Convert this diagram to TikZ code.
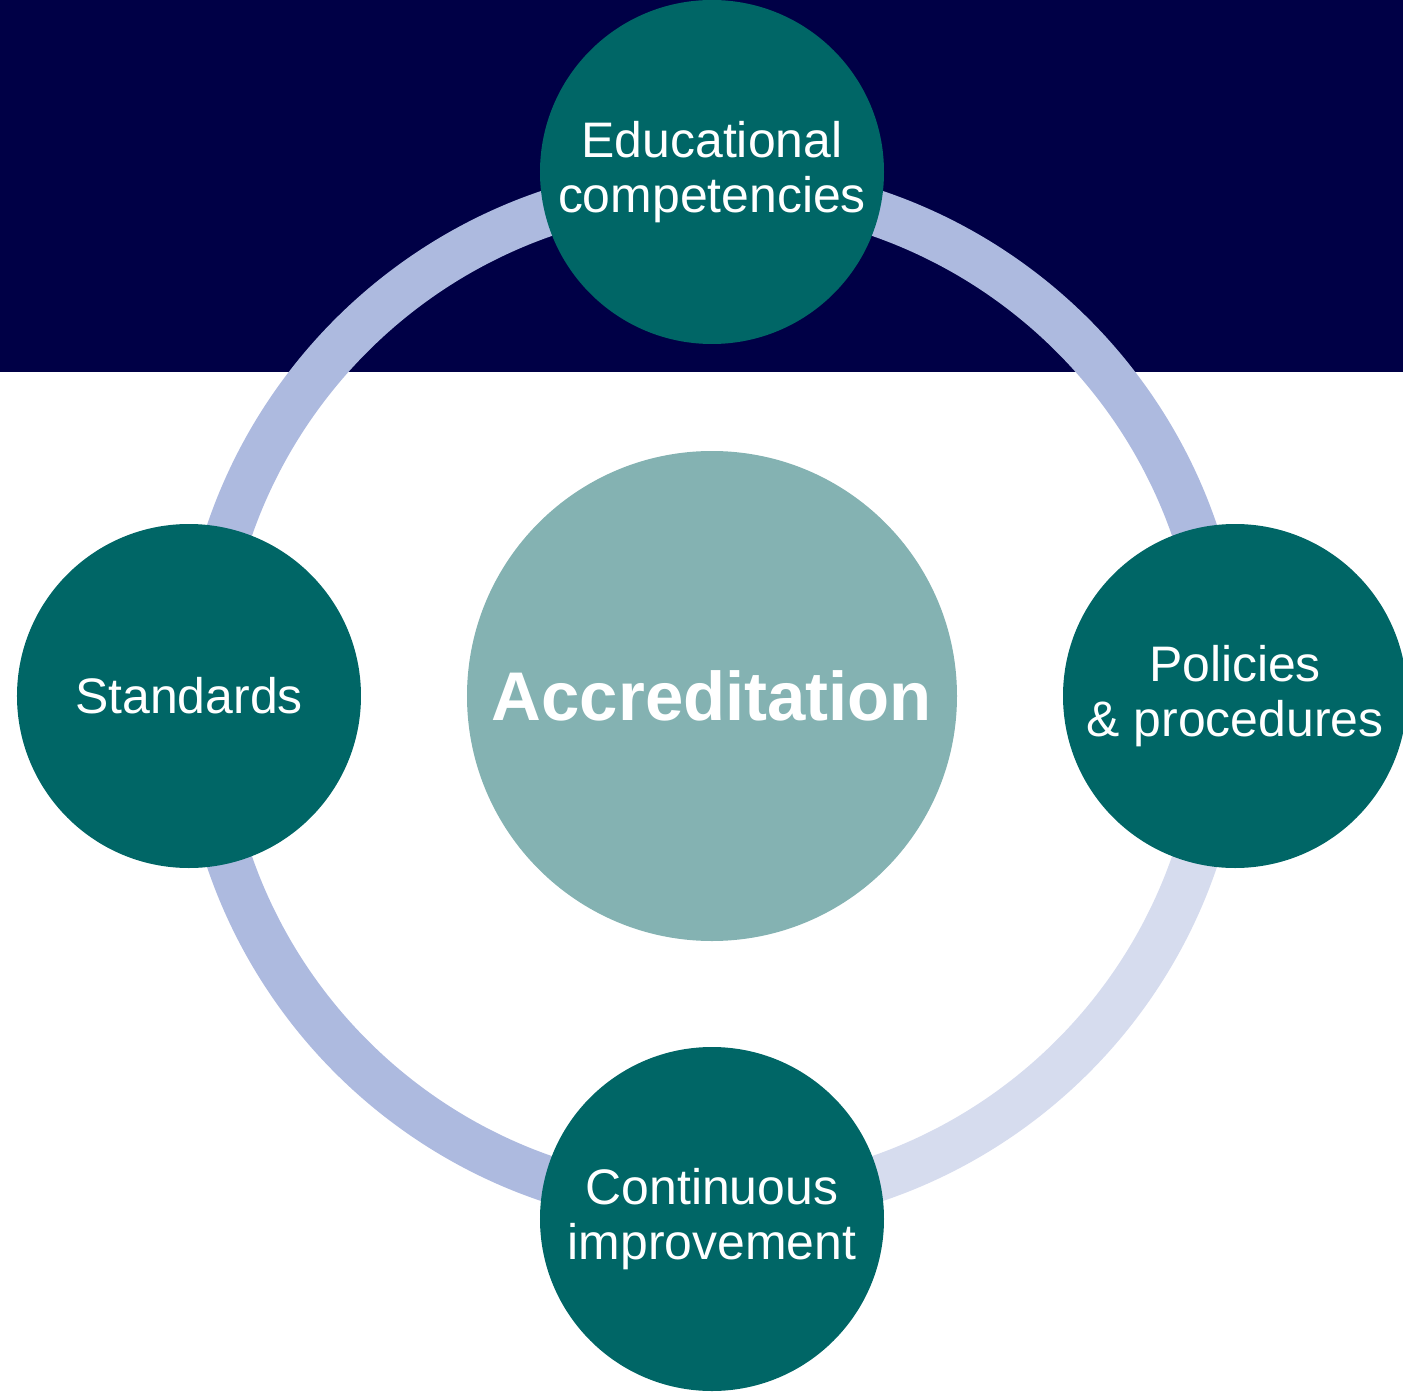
\documentclass[tikz,border=0pt]{standalone}
\usepackage{fontspec}
\setmainfont{Liberation Sans}
\definecolor{navyband}{RGB}{0,0,70}
\definecolor{ringblue}{RGB}{173,186,223}
\definecolor{ringpale}{RGB}{214,220,238}
\definecolor{tealnode}{RGB}{0,102,102}
\definecolor{tealcore}{RGB}{132,178,178}
\tikzset{
  topic/.style={circle, fill=tealnode, minimum size=3.44cm, inner sep=0pt,
    text=white, align=center, font=\fontsize{14.2}{15.6}\selectfont},
  core/.style={circle, fill=tealcore, minimum size=4.9cm, inner sep=0pt,
    text=white, font=\bfseries\fontsize{19.6}{22}\selectfont},
  ringpart/.style={line width=0.46cm}
}
\begin{document}
\begin{tikzpicture}
   \clip (-7.12,-6.95) rectangle (6.91,6.96);
   \fill [navyband] (-7.12,3.24) rectangle (6.91,6.96);
   % ring round the centre
   \draw [ringpart, ringblue] (5.10,0) arc (0:270:5.10);
   \draw [ringpart, ringpale] (0,-5.10) arc (-90:0:5.10);
   \node [core] (accr) at (0,0) {Accreditation};
   \node [topic] (educ) at (0,5.24) {Educational\\competencies};
   \node [topic] (stand) at (-5.23,0) {Standards};
   \node [topic] (policy) at (5.23,0) {Policies\\\& procedures};
   \node [topic] (improve) at (0,-5.23) {Continuous\\improvement};
\end{tikzpicture}
\end{document}
